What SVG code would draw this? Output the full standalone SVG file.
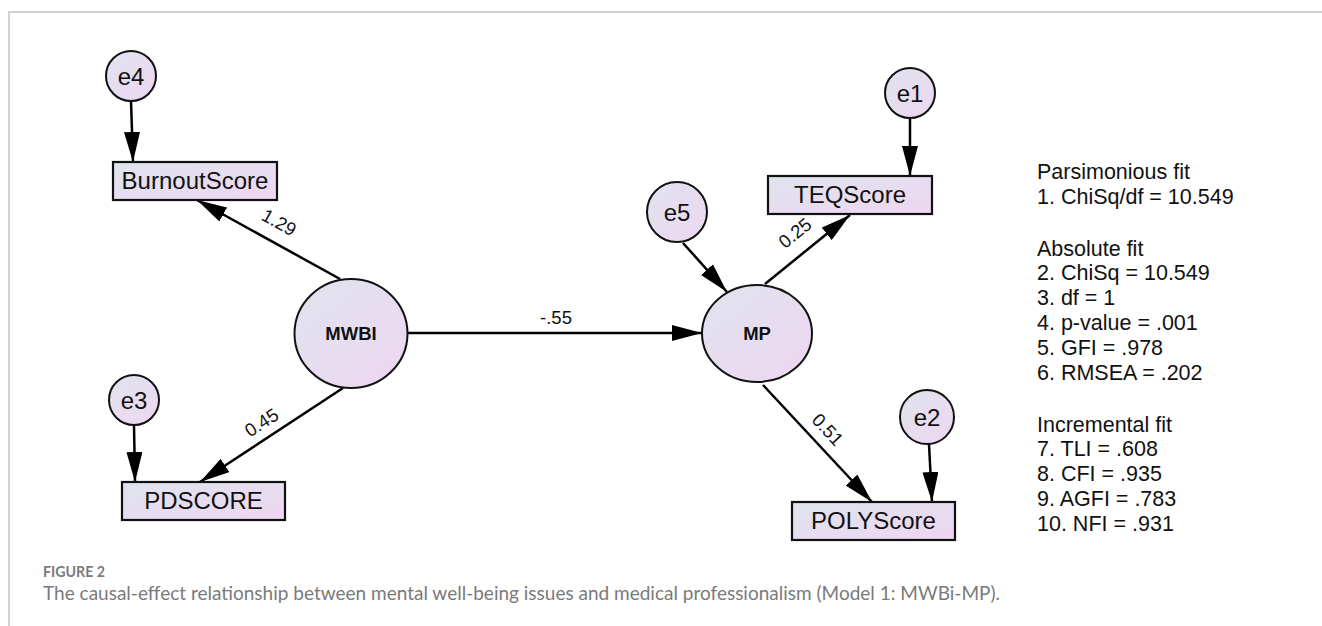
<svg xmlns="http://www.w3.org/2000/svg" width="1322" height="626" viewBox="0 0 1322 626">
  <style>
    .frame { fill: none; stroke: #c4c4c4; stroke-width: 1.5; }
    .node { fill: url(#nodeFill); stroke: #111; stroke-width: 2; }
    .box { fill: url(#nodeFill); stroke: #111; stroke-width: 2.2; }
    .edge { fill: none; stroke: #000; stroke-width: 2.5; marker-end: url(#arrow); }
    .lbl { font-family: "Liberation Sans", Arial, sans-serif; fill: #111; text-anchor: middle; }
    .big { font-size: 24px; }
    .lat { font-size: 18.5px; font-weight: bold; }
    .coef { font-size: 18.5px; }
    .fit { font-family: "Liberation Sans", Arial, sans-serif; font-size: 21.5px; fill: #111; }
    .cap { font-family: Lato, "Open Sans", sans-serif; fill: #7a7a7a; }
  </style>
  <defs>
    <linearGradient id="nodeFill" x1="0" y1="0" x2="1" y2="1">
      <stop offset="0" stop-color="#dfe4ee"/>
      <stop offset="1" stop-color="#eed6f1"/>
    </linearGradient>
    <marker id="arrow" markerUnits="userSpaceOnUse" markerWidth="30" markerHeight="16" refX="30" refY="8" orient="auto">
      <path d="M0,0 L30,8 L0,16 z" fill="#000"/>
    </marker>
  </defs>

  <rect width="1322" height="626" fill="#fff"/>
  <path class="frame" d="M9,626 V12 H1322"/>

  <!-- paths between variables -->
  <g id="connectors">
    <line class="edge" x1="131" y1="101" x2="133" y2="162"/>
    <line class="edge" x1="340" y1="279" x2="197" y2="200"/>
    <line class="edge" x1="134" y1="425" x2="135" y2="482"/>
    <line class="edge" x1="343" y1="388" x2="200" y2="482"/>
    <line class="edge" x1="407" y1="333" x2="702" y2="333"/>
    <line class="edge" x1="683" y1="243" x2="727" y2="292"/>
    <line class="edge" x1="765" y1="284" x2="850" y2="215"/>
    <line class="edge" x1="910" y1="118" x2="910" y2="176"/>
    <line class="edge" x1="763" y1="385" x2="872" y2="502"/>
    <line class="edge" x1="929" y1="444" x2="932" y2="502"/>

    <text class="lbl coef" transform="translate(276,228) rotate(29)">1.29</text>
    <text class="lbl coef" transform="translate(265,428) rotate(-33)">0.45</text>
    <text class="lbl coef" transform="translate(799,238) rotate(-39)">0.25</text>
    <text class="lbl coef" transform="translate(823,434) rotate(47)">0.51</text>
    <text class="lbl coef" x="556" y="324">-.55</text>
  </g>

  <g id="e4">
    <circle class="node" cx="131" cy="76" r="25"/>
    <text class="lbl big" x="131" y="84.5">e4</text>
  </g>
  <g id="BurnoutScore">
    <rect class="box" x="113" y="162" width="164" height="38"/>
    <text class="lbl big" x="195" y="189">BurnoutScore</text>
  </g>
  <g id="MWBI">
    <ellipse class="node" cx="351" cy="333.5" rx="56.5" ry="54.5"/>
    <text class="lbl lat" x="351" y="340">MWBI</text>
  </g>
  <g id="e3">
    <circle class="node" cx="134" cy="400" r="25"/>
    <text class="lbl big" x="134" y="408.5">e3</text>
  </g>
  <g id="PDSCORE">
    <rect class="box" x="122" y="482" width="163" height="38"/>
    <text class="lbl big" x="203.5" y="509">PDSCORE</text>
  </g>
  <g id="MP">
    <ellipse class="node" cx="757" cy="333.5" rx="55" ry="48.5"/>
    <text class="lbl lat" x="757" y="340">MP</text>
  </g>
  <g id="e5">
    <circle class="node" cx="677" cy="212" r="30"/>
    <text class="lbl big" x="677" y="220.5">e5</text>
  </g>
  <g id="TEQScore">
    <rect class="box" x="768" y="176" width="164" height="38"/>
    <text class="lbl big" x="850" y="203">TEQScore</text>
  </g>
  <g id="e1">
    <circle class="node" cx="910" cy="93" r="25"/>
    <text class="lbl big" x="910" y="101.5">e1</text>
  </g>
  <g id="POLYScore">
    <rect class="box" x="792" y="502" width="163" height="38"/>
    <text class="lbl big" x="873.5" y="529">POLYScore</text>
  </g>
  <g id="e2">
    <circle class="node" cx="927" cy="417" r="27"/>
    <text class="lbl big" x="927" y="425.5">e2</text>
  </g>

  <!-- model fit indices -->
  <g id="fit-indices" class="fit">
    <text x="1037" y="179">Parsimonious fit</text>
    <text x="1037" y="204">1. ChiSq/df = 10.549</text>
    <text x="1037" y="256">Absolute fit</text>
    <text x="1037" y="280">2. ChiSq = 10.549</text>
    <text x="1037" y="305">3. df = 1</text>
    <text x="1037" y="330">4. p-value = .001</text>
    <text x="1037" y="355">5. GFI = .978</text>
    <text x="1037" y="380">6. RMSEA = .202</text>
    <text x="1037" y="432">Incremental fit</text>
    <text x="1037" y="456">7. TLI = .608</text>
    <text x="1037" y="481">8. CFI = .935</text>
    <text x="1037" y="506">9. AGFI = .783</text>
    <text x="1037" y="531">10. NFI = .931</text>
  </g>

  <g id="caption">
    <text class="cap" x="43" y="577" font-size="15" font-weight="bold" textLength="62" lengthAdjust="spacingAndGlyphs">FIGURE 2</text>
    <text class="cap" x="43" y="600" font-size="20" textLength="957" lengthAdjust="spacingAndGlyphs">The causal-effect relationship between mental well-being issues and medical professionalism (Model 1: MWBi-MP).</text>
  </g>
</svg>
